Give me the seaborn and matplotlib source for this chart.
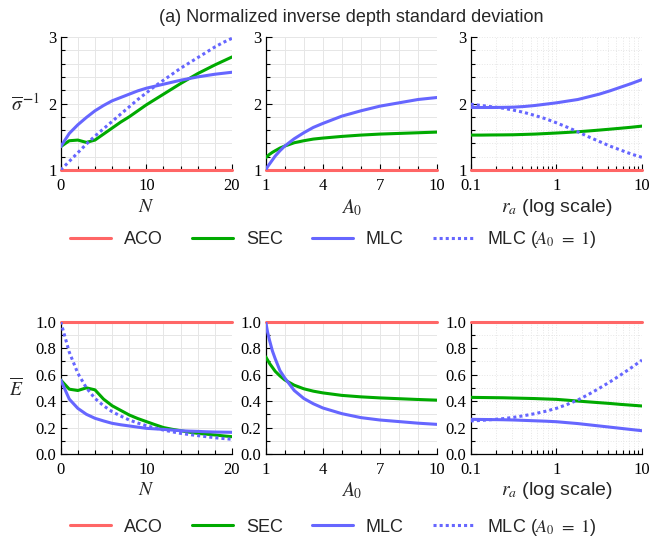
import numpy as np
import pandas as pd
import matplotlib
matplotlib.use("Agg")
import matplotlib.pyplot as plt
import seaborn as sns
from matplotlib.ticker import MultipleLocator, FixedLocator, LogLocator, NullFormatter

# ---- data ----
N = list(range(21))
A0 = [1, 1.1, 1.2, 1.35, 1.5, 1.75, 2, 2.5, 3, 3.5, 4, 5, 6, 7, 8, 9, 10]
RA = [0.1, 0.133, 0.178, 0.237, 0.316, 0.422, 0.562, 0.75, 1.0,
      1.33, 1.78, 2.37, 3.16, 4.22, 5.62, 7.5, 10.0]
ACO_LEVEL = 1.0

# (a) normalized inverse depth std
sig_sec_N = [1.35, 1.44, 1.45, 1.415, 1.45, 1.54, 1.63, 1.72, 1.80, 1.89, 1.98,
             2.06, 2.14, 2.22, 2.30, 2.375, 2.45, 2.515, 2.58, 2.64, 2.70]
sig_mlc_N = [1.35, 1.55, 1.68, 1.79, 1.89, 1.97, 2.04, 2.09, 2.14, 2.19, 2.23,
             2.26, 2.29, 2.32, 2.35, 2.375, 2.40, 2.42, 2.44, 2.455, 2.47]
sig_mlc1_N = [1.0, 1.13, 1.26, 1.39, 1.51, 1.62, 1.73, 1.84, 1.95, 2.06, 2.16,
              2.26, 2.35, 2.44, 2.53, 2.61, 2.69, 2.77, 2.85, 2.92, 2.98]
sig_sec_A = [1.185, 1.21, 1.235, 1.265, 1.29, 1.33, 1.36, 1.41, 1.44, 1.465, 1.48,
             1.505, 1.525, 1.54, 1.55, 1.56, 1.57]
sig_mlc_A = [1.0, 1.05, 1.09, 1.15, 1.21, 1.29, 1.36, 1.47, 1.56, 1.64, 1.70,
             1.81, 1.89, 1.96, 2.01, 2.06, 2.09]
sig_sec_R = [1.525, 1.525, 1.527, 1.528, 1.53, 1.535, 1.54, 1.548, 1.556,
             1.565, 1.575, 1.587, 1.60, 1.614, 1.628, 1.643, 1.66]
sig_mlc_R = [1.94, 1.94, 1.94, 1.942, 1.945, 1.955, 1.97, 1.99, 2.01,
             2.035, 2.06, 2.10, 2.14, 2.19, 2.245, 2.30, 2.36]
sig_mlc1_R = [1.99, 1.97, 1.95, 1.93, 1.90, 1.865, 1.82, 1.77, 1.71,
              1.645, 1.575, 1.50, 1.43, 1.36, 1.30, 1.24, 1.19]

# normalized E
e_sec_N = [0.56, 0.49, 0.48, 0.50, 0.485, 0.415, 0.365, 0.33, 0.295, 0.268, 0.245,
           0.222, 0.20, 0.187, 0.176, 0.165, 0.156, 0.15, 0.144, 0.137, 0.131]
e_mlc_N = [0.56, 0.415, 0.345, 0.30, 0.27, 0.25, 0.232, 0.221, 0.212, 0.203, 0.194,
           0.19, 0.186, 0.181, 0.176, 0.173, 0.171, 0.168, 0.166, 0.165, 0.164]
e_mlc1_N = [1.0, 0.77, 0.61, 0.50, 0.42, 0.365, 0.32, 0.287, 0.257, 0.234, 0.214,
            0.197, 0.181, 0.168, 0.156, 0.147, 0.139, 0.131, 0.123, 0.117, 0.111]
e_sec_A = [0.735, 0.71, 0.685, 0.655, 0.625, 0.59, 0.56, 0.52, 0.493, 0.475, 0.462,
           0.443, 0.432, 0.424, 0.418, 0.412, 0.407]
e_mlc_A = [1.0, 0.92, 0.86, 0.78, 0.72, 0.63, 0.575, 0.48, 0.42, 0.38, 0.348,
           0.305, 0.275, 0.257, 0.245, 0.233, 0.224]
e_sec_R = [0.428, 0.427, 0.426, 0.425, 0.423, 0.421, 0.419, 0.416, 0.413,
           0.407, 0.40, 0.394, 0.388, 0.382, 0.375, 0.369, 0.363]
e_mlc_R = [0.262, 0.261, 0.26, 0.259, 0.257, 0.254, 0.251, 0.248, 0.244,
           0.237, 0.23, 0.221, 0.212, 0.203, 0.194, 0.185, 0.176]
e_mlc1_R = [0.25, 0.254, 0.26, 0.267, 0.277, 0.29, 0.305, 0.323, 0.345,
            0.374, 0.408, 0.45, 0.496, 0.545, 0.597, 0.652, 0.71]

LABELS = ["ACO", "SEC", "MLC", r"MLC ($A_0\ =\ 1$)"]
COLORS = ["#ff6666", "#00aa00", "#6666ff", "#6666ff"]
STYLES = ["-", "-", "-", (0, (1, 1))]

sns.set_theme(style="ticks")
plt.rcParams["font.family"] = ["Liberation Sans", "DejaVu Sans"]
plt.rcParams["mathtext.fontset"] = "stix"

fig = plt.figure(figsize=(6.52, 5.4), dpi=100)
W, H = 652.0, 540.0
lefts = [60.7, 265.7, 470.7]
aw = 171.3
rows = [(37.0, 170.0), (321.7, 454.0)]


def panel(ax, x, series, log=False):
    for i, y in enumerate(series):
        if y is None:
            continue
        sns.lineplot(x=x, y=y, ax=ax, color=COLORS[i], linestyle=STYLES[i],
                     linewidth=2.2, label=LABELS[i], legend=False,
                     clip_on=(i != 0), zorder=3 + i)
    if log:
        ax.set_xscale("log")
    sns.despine(ax=ax)
    ax.grid(which="both", color="#e6e6e6", linewidth=0.7,
            linestyle=":" if log else "-")
    ax.tick_params(which="both", direction="in", width=0.8, labelsize=12,
                   labelfontfamily="Liberation Serif", colors="black")
    ax.tick_params(axis="x", which="both", pad=6)
    ax.tick_params(axis="y", which="both", pad=3)
    ax.tick_params(which="major", length=4)
    ax.tick_params(which="minor", length=3)
    for s in ["left", "bottom"]:
        ax.spines[s].set_color("black")
        ax.spines[s].set_linewidth(0.9)
    ax.set_xlabel("")
    ax.set_ylabel("")


row_data = [
    (sig_sec_N, sig_mlc_N, sig_mlc1_N, sig_sec_A, sig_mlc_A, sig_sec_R, sig_mlc_R, sig_mlc1_R),
    (e_sec_N, e_mlc_N, e_mlc1_N, e_sec_A, e_mlc_A, e_sec_R, e_mlc_R, e_mlc1_R),
]

for r, (top, bot) in enumerate(rows):
    sN, mN, m1N, sA, mA, sR, mR, m1R = row_data[r]
    axes = []
    for c in range(3):
        ax = fig.add_axes([lefts[c] / W, 1 - bot / H, aw / W, (bot - top) / H])
        axes.append(ax)
    panel(axes[0], N, [[ACO_LEVEL] * len(N), sN, mN, m1N])
    panel(axes[1], A0, [[ACO_LEVEL] * len(A0), sA, mA, None])
    panel(axes[2], RA, [[ACO_LEVEL] * len(RA), sR, mR, m1R], log=True)

    axes[0].set_xlim(0, 20)
    axes[0].xaxis.set_major_locator(FixedLocator([0, 10, 20]))
    axes[0].xaxis.set_minor_locator(MultipleLocator(2))
    axes[1].set_xlim(1, 10)
    axes[1].xaxis.set_major_locator(FixedLocator([1, 4, 7, 10]))
    axes[1].xaxis.set_minor_locator(MultipleLocator(1))
    axes[2].set_xlim(0.1, 10)
    axes[2].set_xticks([0.1, 1, 10], ["0.1", "1", "10"])
    axes[2].xaxis.set_minor_locator(LogLocator(base=10, subs=np.arange(2, 10)))
    axes[2].xaxis.set_minor_formatter(NullFormatter())

    for ax in axes:
        if r == 0:
            ax.set_ylim(1, 3)
            ax.set_yticks([1, 2, 3], ["1", "2", "3"])
            ax.yaxis.set_minor_locator(MultipleLocator(0.2))
        else:
            ax.set_ylim(0, 1)
            ax.set_yticks(np.arange(0, 1.01, 0.2), ["0.0", "0.2", "0.4", "0.6", "0.8", "1.0"])
            ax.yaxis.set_minor_locator(MultipleLocator(0.1))

    xlab_off = -0.28 if r == 0 else -0.275
    for ax, lab in zip(axes, [r"$N$", r"$A_0$", r"$r_a$ (log scale)"]):
        ax.set_xlabel(lab, fontsize=14, va="center")
        ax.xaxis.set_label_coords(0.5, xlab_off)

    if r == 0:
        axes[0].set_ylabel(r"$\overline{\sigma}^{\,\mathbf{-}1}$", rotation=0,
                           fontsize=14, ha="center", va="center")
        axes[0].yaxis.set_label_coords(-0.205, 0.5)
    else:
        axes[0].set_ylabel(r"$\overline{E}$", rotation=0, fontsize=14,
                           ha="center", va="center")
        axes[0].yaxis.set_label_coords(-0.258, 0.5)

    handles, labels = axes[0].get_legend_handles_labels()
    leg_y = 240.0 if r == 0 else 527.0
    fig.legend(handles, labels, loc="center", bbox_to_anchor=(333.0 / W, 1 - leg_y / H),
               ncol=4, frameon=False, fontsize=13, handlelength=2.3,
               handletextpad=0.7, columnspacing=1.6)

fig.text(351.5 / W, 1 - 17.0 / H, "(a) Normalized inverse depth standard deviation",
         ha="center", va="center", fontsize=13)

fig.savefig("out.png", dpi=100)
